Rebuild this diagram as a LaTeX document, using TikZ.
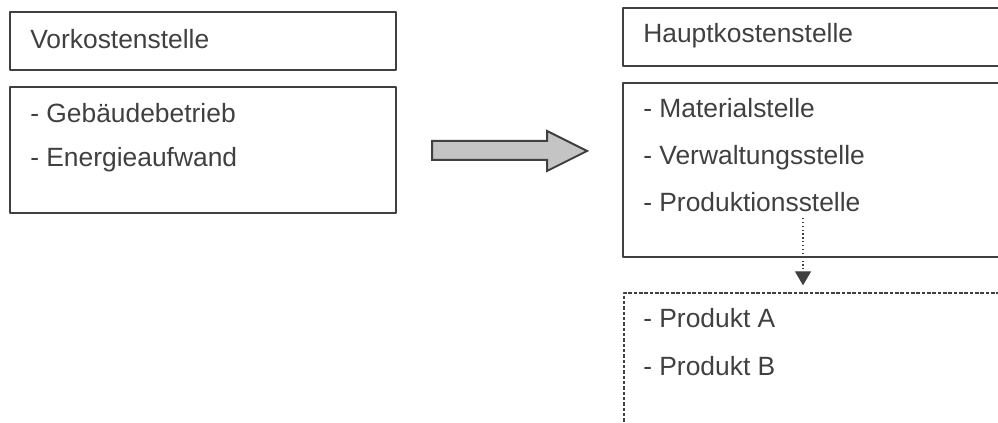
\documentclass[tikz,border=0pt]{standalone}
\usepackage{fontspec}
\setmainfont{Liberation Sans}
\usetikzlibrary{arrows.meta}
\usetikzlibrary{positioning}
\definecolor{dgray}{HTML}{404040}
\definecolor{lgray}{HTML}{C4C4C4}
\tikzset{
  kbox/.style={draw=dgray,line width=1.4pt,rectangle,inner sep=0pt,anchor=north west},
  ktext/.style={anchor=base west,inner sep=0pt,text=dgray,font=\fontsize{19.8}{24}\selectfont}
}
\begin{document}
\begin{tikzpicture}[line cap=round,line join=round,x=0.75pt,y=-0.75pt]
\useasboundingbox (0,0) rectangle (998,423);
\clip (0,0) rectangle (998,423);
% Vorkostenstellen
\node[kbox,minimum width=289.5pt,minimum height=43.5pt] (vk) at (9,11) {};
\node[kbox,minimum width=289.5pt,minimum height=94.5pt] (vkl) at (9,86) {};
\node[ktext] (vkt) at (30,49) {Vorkostenstelle};
\node[ktext] (vk1) at (30,123) {- Gebäudebetrieb};
\node[ktext] (vk2) at (30,167) {- Energieaufwand};
% Pfeil
\draw [line width=1.5pt,draw=dgray,fill=lgray,line cap=butt,line join=miter] (432,141) -- (547,141) -- (547,131) -- (587,151) -- (547,171) -- (547,160) -- (432,160) -- cycle;
% Hauptkostenstellen
\node[kbox,minimum width=295pt,minimum height=43.5pt] (hk) at (622,7) {};
\node[kbox,minimum width=295pt,minimum height=130.5pt] (hkl) at (622,82) {};
\node[ktext] (hkt) at (643,43) {Hauptkostenstelle};
\node[ktext] (hk1) at (643,118) {- Materialstelle};
\node[ktext] (hk2) at (643,165) {- Verwaltungsstelle};
\node[ktext] (hk3) at (643,212) {- Produktionsstelle};
% Kostentraeger
\node[kbox,line cap=butt,line width=1.4pt,dash pattern=on 2.6pt off 1.4pt,minimum width=295pt,minimum height=120pt] (kt) at (623,292) {};
\node[ktext] (kt1) at (643,328) {- Produkt A};
\node[ktext] (kt2) at (643,375) {- Produkt B};
\coordinate (pz) at (803,218);
\draw [dgray,line width=0.9pt,dotted,line cap=butt,-{Triangle[width=12pt,length=10.5pt]},shorten >=5pt] (pz) -- (pz |- kt.north);
\end{tikzpicture}
\end{document}
